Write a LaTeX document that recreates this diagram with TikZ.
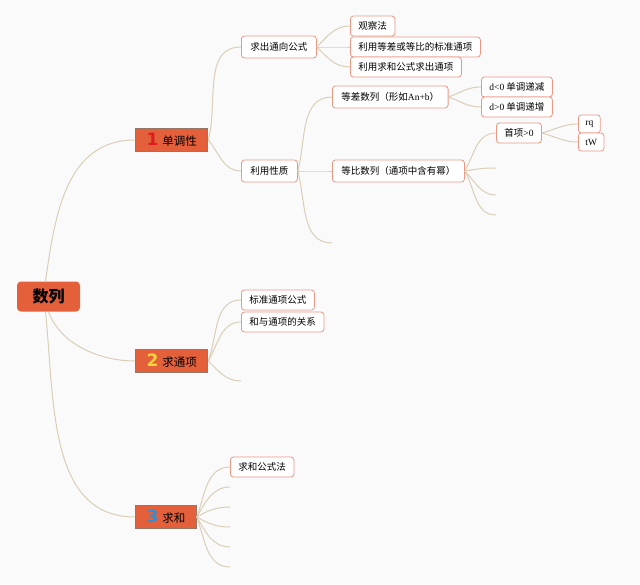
\documentclass[tikz,border=0pt]{standalone}
\usepackage{fontspec}
\setmainfont{Noto Sans CJK SC}
\newfontfamily\lat{Liberation Serif}
\newfontfamily\numfont{DejaVu Sans}
\usetikzlibrary{positioning}
\definecolor{bgcol}{RGB}{251,250,251}
\definecolor{linkcol}{RGB}{218,207,182}
\definecolor{topicfill}{RGB}{228,96,58}
\definecolor{topicline}{RGB}{150,118,100}
\definecolor{leafline}{RGB}{234,152,132}
\definecolor{numred}{RGB}{222,28,30}
\definecolor{numyellow}{RGB}{248,212,60}
\definecolor{numblue}{RGB}{52,140,210}
\newcommand{\branchnum}[2]{{\numfont\bfseries\fontsize{17}{17}\selectfont\color{#1}#2}\hspace{4pt}}
\tikzset{
  rootbox/.style={fill=topicfill, rounded corners=4pt, align=center, minimum height=30pt, minimum width=63pt, font=\bfseries\fontsize{16}{16}\selectfont},
  topicbox/.style={draw=topicline, line width=1pt, fill=topicfill, anchor=west, minimum height=23pt, inner xsep=11pt, font=\fontsize{11.5}{11.5}\selectfont},
  subbox/.style={draw=leafline, line width=0.8pt, fill=white, rounded corners=3pt, anchor=west, minimum height=22pt, inner xsep=9pt, font=\fontsize{9.5}{9.5}\selectfont},
  leafbox/.style={draw=leafline, line width=0.8pt, fill=white, rounded corners=3pt, anchor=west, minimum height=20pt, inner xsep=8pt, font=\fontsize{9.5}{9.5}\selectfont},
  link/.style={draw=linkcol, line width=1pt}
}
\begin{document}
\begin{tikzpicture}[x=1pt, y=1pt]
  \fill[bgcol] (0,0) rectangle (640,-584);
  \useasboundingbox (0,0) rectangle (640,-584);
  % centre and main branches
  \node[rootbox] (root) at (48.5,-296.5) {数列};
  \node[topicbox] (mono) at (135,-140) {\branchnum{numred}{1}单调性};
  \node[topicbox] (term) at (135,-361) {\branchnum{numyellow}{2}求通项};
  \node[topicbox] (sum) at (135,-517) {\branchnum{numblue}{3}求和};
  \draw[link] ([xshift=-3pt]root.north) to[out=82, in=180, looseness=1.05] (mono.west);
  \draw[link] (root.south) to[out=-70, in=180, looseness=0.9] (term.west);
  \draw[link] ([xshift=-3pt]root.south) to[out=-84, in=180] (sum.west);
  % 1 单调性
  \node[subbox] (formula) at (241,-47) {求出通向公式};
  \node[subbox] (props) at (241,-171) {利用性质};
  \draw[link] (mono.east) to[out=75, in=180] (formula.west);
  \draw[link] (mono.east) to[out=-50, in=180] (props.west);
  \node[leafbox] (observe) at (350,-26) {观察法};
  \node[leafbox] (standard) at (350,-47) {利用等差或等比的标准通项};
  \node[leafbox] (bysum) at (350,-67) {利用求和公式求出通项};
  \draw[link] (formula.east) to[out=45, in=180] (observe.west);
  \draw[link] (formula.east) to[out=0, in=180] (standard.west);
  \draw[link] (formula.east) to[out=-45, in=180] (bysum.west);
  \node[subbox] (arith) at (332,-97) {等差数列（形如{\lat An+b}）};
  \node[subbox] (geom) at (332,-171) {等比数列（通项中含有幂）};
  \coordinate (propsx) at (332,-243);
  \draw[link] (props.east) to[out=75, in=180] (arith.west);
  \draw[link] (props.east) to[out=0, in=180] (geom.west);
  \draw[link] (props.east) to[out=-75, in=180] (propsx);
  \node[leafbox] (dneg) at (481,-87) {{\lat d<0} 单调递减};
  \node[leafbox] (dpos) at (481,-107) {{\lat d>0} 单调递增};
  \draw[link] (arith.east) to[out=20, in=180] (dneg.west);
  \draw[link] (arith.east) to[out=-20, in=180] (dpos.west);
  \node[leafbox] (first) at (496,-133) {首项{\lat >0}};
  \coordinate (geomx1) at (496,-168);
  \coordinate (geomx2) at (496,-195);
  \coordinate (geomx3) at (496,-215);
  \draw[link] (geom.east) to[out=60, in=180] (first.west);
  \draw[link] (geom.east) to[out=10, in=180] (geomx1);
  \draw[link] (geom.east) to[out=-45, in=180] (geomx2);
  \draw[link] (geom.east) to[out=-60, in=180] (geomx3);
  \node[leafbox, minimum height=18pt, inner xsep=7pt] (rq) at (578,-124) {\lat rq};
  \node[leafbox, minimum height=18pt, inner xsep=7pt] (tw) at (578,-142) {\lat tW};
  \draw[link] (first.east) to[out=15, in=180] (rq.west);
  \draw[link] (first.east) to[out=-15, in=180] (tw.west);
  % 2 求通项
  \node[leafbox] (stdterm) at (241,-300) {标准通项公式};
  \node[leafbox] (relation) at (241,-322) {和与通项的关系};
  \coordinate (termx) at (241,-381);
  \draw[link] (term.east) to[out=70, in=180] (stdterm.west);
  \draw[link] (term.east) to[out=60, in=180] (relation.west);
  \draw[link] (term.east) to[out=-45, in=180] (termx);
  % 3 求和
  \node[leafbox] (sumformula) at (230,-467) {求和公式法};
  \coordinate (sumx1) at (230,-487);
  \coordinate (sumx2) at (230,-507);
  \coordinate (sumx3) at (230,-527);
  \coordinate (sumx4) at (230,-547);
  \coordinate (sumx5) at (230,-567);
  \draw[link] (sum.east) to[out=70, in=180] (sumformula.west);
  \draw[link] (sum.east) to[out=60, in=180] (sumx1);
  \draw[link] (sum.east) to[out=30, in=180] (sumx2);
  \draw[link] (sum.east) to[out=-30, in=180] (sumx3);
  \draw[link] (sum.east) to[out=-60, in=180] (sumx4);
  \draw[link] (sum.east) to[out=-70, in=180] (sumx5);
\end{tikzpicture}
\end{document}
